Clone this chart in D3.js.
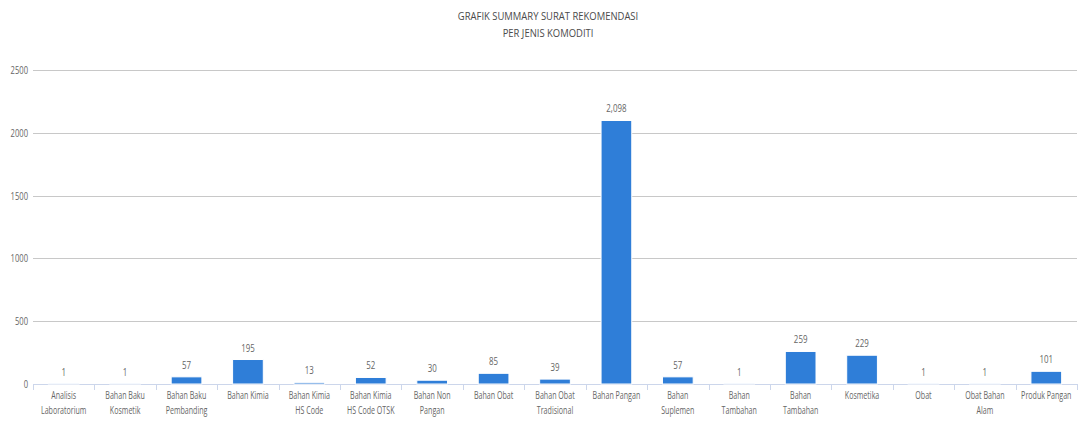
<!DOCTYPE html>
<html><head><meta charset="utf-8">
<script src="https://cdn.jsdelivr.net/npm/d3@7"></script>
<style>body{margin:0;background:#fff}svg{display:block}text{font-family:"Open Sans",sans-serif}</style>
</head><body>
<svg id="c" width="1079" height="421"></svg>
<script>
const titleLines = ["GRAFIK SUMMARY SURAT REKOMENDASI", "PER JENIS KOMODITI"];
const categories = ["Analisis\nLaboratorium","Bahan Baku\nKosmetik","Bahan Baku\nPembanding","Bahan Kimia","Bahan Kimia\nHS Code","Bahan Kimia\nHS Code OTSK","Bahan Non\nPangan","Bahan Obat","Bahan Obat\nTradisional","Bahan Pangan","Bahan\nSuplemen","Bahan\nTambahan","Bahan\nTambahan","Kosmetika","Obat","Obat Bahan\nAlam","Produk Pangan"];
const values = [1,1,57,195,13,52,30,85,39,2098,57,1,259,229,1,1,101];
const yTicks = [0,500,1000,1500,2000,2500];

const svg = d3.select("#c");
const M = {l:33, r:1077, t:70, b:384};
const x = d3.scaleBand().domain(d3.range(categories.length)).range([M.l, M.r]).paddingInner(0.5).paddingOuter(0.25);
const y = d3.scaleLinear().domain([0,2500]).range([M.b, M.t]);

function ctext(g, tx, ty, str, size, color, anchor, sx){
  return g.append("text").attr("transform", `translate(${tx},${ty}) scale(${sx},1)`)
    .attr("text-anchor", anchor||"middle").attr("font-size", size).attr("fill", color).text(str);
}

// title
titleLines.forEach((t,i)=>ctext(svg, 548, 20 + i*17, t, 11, "#4a4a4a", "middle", 0.86));

// grid
svg.append("g").selectAll("line").data(yTicks.filter(d=>d>0)).join("line")
  .attr("x1", M.l).attr("x2", M.r).attr("y1", d=>Math.round(y(d))+0.5).attr("y2", d=>Math.round(y(d))+0.5)
  .attr("stroke", "#c8c8c8").attr("stroke-width", 1);
yTicks.forEach(d=>ctext(svg, 28, y(d)+4, d3.format("")(d), 10, "#666", "end", 0.76));

// x axis
const step = x.step();
svg.append("line").attr("x1", M.l).attr("x2", M.r).attr("y1", M.b+0.5).attr("y2", M.b+0.5).attr("stroke", "#ccd6eb");
svg.append("g").selectAll("line").data(d3.range(categories.length+1)).join("line")
  .attr("x1", d=>Math.round(M.l + d*step)+0.5).attr("x2", d=>Math.round(M.l + d*step)+0.5)
  .attr("y1", M.b).attr("y2", M.b+6).attr("stroke", "#ccd6eb");

categories.forEach((c,i)=>{
  const cx = x(i) + x.bandwidth()/2;
  c.split("\n").forEach((ln,j)=>ctext(svg, cx, 399 + j*15, ln, 10, "#666", "middle", 0.71));
});

// bars
svg.append("g").selectAll("rect").data(values).join("rect")
  .attr("x", (d,i)=>x(i)).attr("width", x.bandwidth())
  .attr("y", d=>y(d)).attr("height", d=>M.b - y(d))
  .attr("fill", "#2f7ed8").attr("stroke", "#fff").attr("stroke-width", 1);

values.forEach((v,i)=>ctext(svg, x(i)+x.bandwidth()/2, y(v)-8, d3.format(",")(v), 11, "#666", "middle", 0.72));
</script>
</body></html>
